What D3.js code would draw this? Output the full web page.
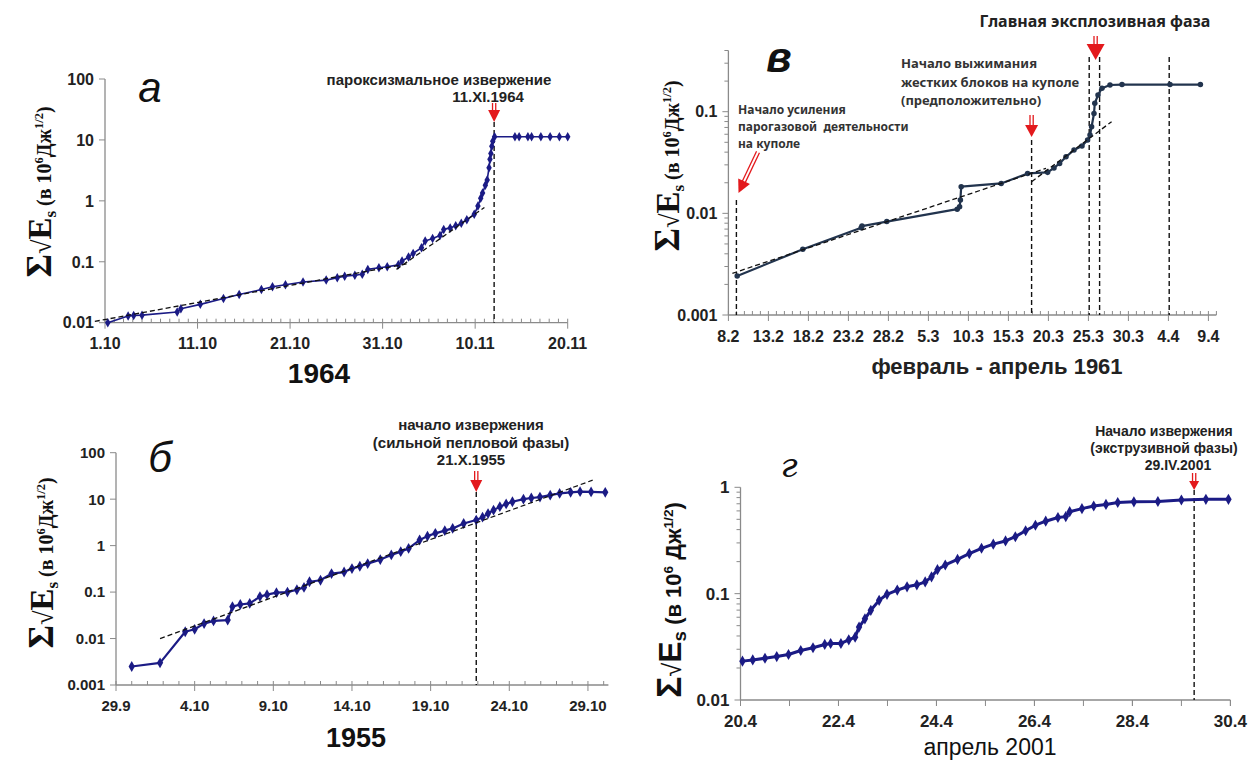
<!DOCTYPE html>
<html>
<head>
<meta charset="utf-8">
<script src="https://cdn.jsdelivr.net/npm/d3@7/dist/d3.min.js"></script>
<style>
body { margin: 0; background: #fff; }
</style>
</head>
<body>
<script>
var W = 1250, H = 762;

// ---- panel а : 1964 (days from 1.10)
var aTickDays = [0, 10, 20, 30, 40, 50];
var aTickLabels = ["1.10", "11.10", "21.10", "31.10", "10.11", "20.11"];
var aDays = [0.3, 2.5, 3.1, 4.0, 7.8, 8.2, 10.3, 12.8, 14.5, 16.9, 18.1, 19.5, 21.4, 23.9, 25.1, 25.9, 27.0, 27.8,
             28.4, 29.6, 30.5, 31.7, 32.1, 32.8, 33.3, 34.2, 34.6, 35.4, 36.2, 36.6, 37.3, 37.9, 38.5, 39.1, 39.9,
             40.3, 40.6, 40.8, 41.1, 41.3, 41.5, 41.6, 41.7, 41.8, 41.9, 42.1, 44.3, 44.75, 45.7, 46.1, 47.1, 48.1, 49.1, 50.0];
var aVals = [0.0100, 0.0129, 0.0131, 0.0133, 0.0150, 0.0170, 0.0200, 0.0250, 0.029, 0.035, 0.039, 0.042, 0.0466, 0.050,
             0.0545, 0.058, 0.060, 0.0625, 0.075, 0.080, 0.083, 0.089, 0.103, 0.12, 0.137, 0.17, 0.22, 0.24, 0.27, 0.34,
             0.36, 0.39, 0.43, 0.49, 0.60, 0.82, 1.1, 1.35, 1.8, 2.2, 3.5, 4.8, 6.0, 7.9, 9.5, 11.3, 11.3, 11.3, 11.3,
             11.3, 11.3, 11.3, 11.3, 11.3];
var aTrend1 = [[-1.1, 0.0105], [32.9, 0.094]];
var aTrend2 = [[31.5, 0.075], [41.0, 0.78]];
var aEventDay = 42.05;

// ---- panel в : February - April 1961 (days from 8.2)
var vTickDays = [0, 5, 10, 15, 20, 25, 30, 35, 40, 45, 50, 55, 60];
var vTickLabels = ["8.2", "13.2", "18.2", "23.2", "28.2", "5.3", "10.3", "15.3", "20.3", "25.3", "30.3", "4.4", "9.4"];
var vDays = [1.1, 9.3, 16.6, 16.7, 19.8, 28.6, 28.9, 29.0, 29.1, 34.1, 37.4, 39.9, 40.7, 41.4, 42.2, 43.2, 44.2,
             44.9, 45.2, 45.4, 45.7, 45.8, 46.2, 46.7, 47.7, 49.2, 55.2, 59.0];
var vVals = [0.00242, 0.00443, 0.00723, 0.0075, 0.0083, 0.0110, 0.0116, 0.0135, 0.0183, 0.0197, 0.0247, 0.0253,
             0.028, 0.031, 0.036, 0.042, 0.046, 0.0526, 0.059, 0.071, 0.096, 0.121, 0.146, 0.170, 0.183, 0.185,
             0.185, 0.185];
var vTrend1 = [[0.5, 0.00257], [39.7, 0.0277]];
var vTrend2 = [[37.9, 0.0205], [47.9, 0.0798]];
var vEventDays = [1.0, 37.9, 45.1, 46.4, 55.1];
var vEventTops = [200, 140, 57, 57, 57];

// ---- panel б : 1955 (days from 29.9)
var bTickDays = [0, 5, 10, 15, 20, 25, 30];
var bTickLabels = ["29.9", "4.10", "9.10", "14.10", "19.10", "24.10", "29.10"];
var bDays = [1.0, 2.8, 4.4, 5.0, 5.6, 6.2, 7.1, 7.4, 7.9, 8.5, 9.15, 9.6, 10.2, 10.9, 11.5, 11.95, 12.3, 13.0, 13.7,
             14.5, 15.0, 15.5, 16.0, 16.8, 17.5, 18.1, 18.6, 19.3, 19.8, 20.3, 20.9, 21.4, 22.1, 22.9, 23.3, 23.65,
             24.0, 24.4, 24.8, 25.2, 25.9, 26.4, 26.95, 27.6, 28.2, 28.9, 29.5, 30.2, 31.1];
var bVals = [0.0025, 0.0030, 0.014, 0.0158, 0.021, 0.024, 0.025, 0.0486, 0.054, 0.057, 0.080, 0.088, 0.097, 0.100,
             0.112, 0.126, 0.167, 0.18, 0.25, 0.27, 0.32, 0.36, 0.41, 0.50, 0.63, 0.74, 0.87, 1.32, 1.60, 1.84, 2.1,
             2.35, 3.0, 3.55, 4.1, 4.9, 5.8, 6.9, 7.9, 8.8, 10.0, 10.6, 11.1, 12.2, 13.3, 14.0, 14.5, 14.3, 14.0];
var bTrend = [[2.8, 0.010], [30.3, 25.7]];
var bEventDay = 22.9;

// ---- panel г : April 2001 (days from 20.4)
var gTickDays = [0, 2, 4, 6, 8, 10];
var gTickLabels = ["20.4", "22.4", "24.4", "26.4", "28.4", "30.4"];
var gDays = [0.04, 0.25, 0.5, 0.74, 0.98, 1.23, 1.48, 1.72, 1.84, 2.05, 2.21, 2.34, 2.42, 2.54, 2.66, 2.83, 2.99,
             3.2, 3.4, 3.6, 3.77, 3.9, 4.02, 4.18, 4.43, 4.67, 4.92, 5.16, 5.41, 5.61, 5.82, 6.02, 6.23, 6.48, 6.64,
             6.72, 6.97, 7.21, 7.46, 7.7, 8.03, 8.52, 9.0, 9.5, 9.96];
var gVals = [0.0232, 0.0238, 0.0247, 0.0256, 0.0268, 0.0292, 0.031, 0.0333, 0.034, 0.034, 0.0368, 0.039, 0.0485,
             0.058, 0.0697, 0.0865, 0.0986, 0.108, 0.116, 0.121, 0.129, 0.144, 0.168, 0.186, 0.21, 0.238, 0.267,
             0.292, 0.313, 0.343, 0.39, 0.44, 0.48, 0.52, 0.53, 0.59, 0.63, 0.667, 0.69, 0.72, 0.73, 0.735, 0.76,
             0.77, 0.77];
var gEventDay = 9.26;

var svg = d3.select("body").append("svg")
    .attr("width", W).attr("height", H)
    .style("font-family", "'Liberation Sans', Arial, sans-serif");

var RED = "#e3191c";
var AXIS = "#8a8a8a";

function zip(xs, ys) { return xs.map(function(d, i) { return [d, ys[i]]; }); }

// arrow drawn from (x1,y1) to tip (x2,y2) with a double shaft
function arrow(x1, y1, x2, y2, headLen, headW) {
    var ang = Math.atan2(y2 - y1, x2 - x1) * 180 / Math.PI;
    var L = Math.sqrt((x2 - x1) * (x2 - x1) + (y2 - y1) * (y2 - y1));
    var g = svg.append("g").attr("transform", "translate(" + x2 + "," + y2 + ") rotate(" + ang + ")");
    [-1.6, 1.6].forEach(function(o) {
        g.append("line").attr("x1", -L).attr("y1", o).attr("x2", -headLen + 1).attr("y2", o)
            .attr("stroke", RED).attr("stroke-width", 1.3);
    });
    g.append("path")
        .attr("d", "M0,0 L" + (-headLen) + "," + (-headW / 2) + " L" + (-headLen) + "," + (headW / 2) + " Z")
        .attr("fill", RED);
}

function ylabel(x, y, serif, big, small) {
    var t = svg.append("text")
        .attr("transform", "translate(" + x + "," + y + ") rotate(-90)")
        .attr("text-anchor", "middle")
        .attr("font-weight", "bold")
        .attr("fill", "#111")
        .style("font-family", serif ? "'Liberation Serif', 'DejaVu Serif', serif" : "'Liberation Sans', Arial, sans-serif");
    t.append("tspan").attr("font-size", big + 3).text("Σ");
    t.append("tspan").attr("font-size", big * 0.8).attr("font-weight", "normal").text("√");
    t.append("tspan").attr("font-size", big).text("E");
    t.append("tspan").attr("font-size", small * 0.85).attr("dy", 5).text("s");
    t.append("tspan").attr("font-size", small).attr("dy", -5).text(" (в 10");
    t.append("tspan").attr("font-size", small * 0.62).attr("dy", -8).text("6");
    t.append("tspan").attr("font-size", small).attr("dy", 8).text(serif ? "Дж" : " Дж");
    t.append("tspan").attr("font-size", small * 0.62).attr("dy", -8).text("1/2");
    t.append("tspan").attr("font-size", small).attr("dy", 8).text(")");
}

function panel(cfg) {
    var x = d3.scaleLinear().domain(cfg.xDomain).range(cfg.xRange);
    var y = d3.scaleLog().domain(cfg.yDomain).range(cfg.yRange);
    var g = svg.append("g");
    var x0 = cfg.xRange[0], y0 = cfg.yRange[0];

    // minor x ticks
    g.selectAll(".mx").data(d3.range(Math.ceil(cfg.xDomain[0]), cfg.xDomain[1] + 0.001, cfg.minorStep))
        .enter().append("line")
        .attr("x1", function(d) { return x(d); }).attr("x2", function(d) { return x(d); })
        .attr("y1", y0).attr("y2", y0 + cfg.minorDir * cfg.minorLen)
        .attr("stroke", AXIS).attr("stroke-width", 1);
    // major x ticks
    g.selectAll(".Mx").data(cfg.xTicks).enter().append("line")
        .attr("x1", function(d) { return x(d); }).attr("x2", function(d) { return x(d); })
        .attr("y1", y0).attr("y2", y0 + 6)
        .attr("stroke", AXIS).attr("stroke-width", 1);
    g.selectAll(".lx").data(cfg.xTicks).enter().append("text")
        .attr("x", function(d) { return x(d); }).attr("y", cfg.xLabelY)
        .attr("text-anchor", "middle").attr("font-weight", "bold")
        .attr("font-size", cfg.tickFont).attr("fill", "#222")
        .text(function(d, i) { return cfg.xLabels[i]; });

    // y ticks
    var decades = [];
    for (var e = Math.round(Math.log10(cfg.yDomain[0])); Math.pow(10, e) <= cfg.yDomain[1] * 1.0001; e++) decades.push(Math.pow(10, e));
    if (cfg.yMinor) {
        var minors = [];
        decades.forEach(function(d) { for (var k = 2; k <= 9; k++) if (d * k <= cfg.yDomain[1]) minors.push(d * k); });
        g.selectAll(".my").data(minors).enter().append("line")
            .attr("x1", x0 - 4).attr("x2", x0)
            .attr("y1", function(d) { return y(d); }).attr("y2", function(d) { return y(d); })
            .attr("stroke", AXIS).attr("stroke-width", 1);
    }
    g.selectAll(".My").data(decades).enter().append("line")
        .attr("x1", x0 - 6).attr("x2", x0)
        .attr("y1", function(d) { return y(d); }).attr("y2", function(d) { return y(d); })
        .attr("stroke", AXIS).attr("stroke-width", 1);
    g.selectAll(".ly").data(decades).enter().append("text")
        .attr("x", x0 - 11).attr("y", function(d) { return y(d) + cfg.tickFont * 0.36; })
        .attr("text-anchor", "end").attr("font-weight", "bold")
        .attr("font-size", cfg.tickFont).attr("fill", "#222")
        .text(function(d) { return d >= 1 ? String(d) : String(+d.toPrecision(1)); });

    // axis lines
    g.append("line").attr("x1", x0).attr("x2", x0).attr("y1", y0).attr("y2", cfg.yRange[1])
        .attr("stroke", AXIS).attr("stroke-width", 1.3);
    g.append("line").attr("x1", x0).attr("x2", cfg.xRange[1]).attr("y1", y0).attr("y2", y0)
        .attr("stroke", AXIS).attr("stroke-width", 1.3);

    // event dashed lines
    cfg.events.forEach(function(ev) {
        g.append("line").attr("x1", x(ev[0])).attr("x2", x(ev[0]))
            .attr("y1", ev[1]).attr("y2", y0)
            .attr("stroke", "#111").attr("stroke-width", 1.4).attr("stroke-dasharray", "5,3");
    });

    // data line
    var line = d3.line().x(function(d) { return x(d[0]); }).y(function(d) { return y(d[1]); });
    var pts = zip(cfg.days, cfg.vals);
    g.append("path").datum(pts).attr("d", line)
        .attr("fill", "none").attr("stroke", cfg.color).attr("stroke-width", cfg.lineW)
        .attr("stroke-linejoin", "round");
    g.selectAll(".pt").data(pts).enter().append("path")
        .attr("transform", function(d) { return "translate(" + x(d[0]) + "," + y(d[1]) + ")"; })
        .attr("d", d3.symbol().type(cfg.symbol).size(cfg.symSize))
        .attr("fill", cfg.color);

    // trend lines
    cfg.trends.forEach(function(tr) {
        g.append("path").datum(tr).attr("d", line)
            .attr("fill", "none").attr("stroke", "#111").attr("stroke-width", 1.3)
            .attr("stroke-dasharray", "5,3");
    });
    return x;
}

// ---------- panel а
var xa = panel({
    xDomain: [0, 50], xRange: [105, 567.7], yDomain: [0.01, 100], yRange: [322.7, 79],
    xTicks: aTickDays, xLabels: aTickLabels, xLabelY: 349, tickFont: 16,
    minorStep: 1, minorDir: -1, minorLen: 4, yMinor: false,
    days: aDays, vals: aVals, color: "#1b1b85", lineW: 1.6, symbol: d3.symbolDiamond, symSize: 26,
    trends: [aTrend1, aTrend2], events: [[aEventDay, 122]]
});
arrow(xa(aEventDay), 103, xa(aEventDay), 122, 12, 12);
svg.append("text").attr("x", 439).attr("y", 85).attr("text-anchor", "middle")
    .attr("font-weight", "bold").attr("font-size", 15).attr("fill", "#222").text("пароксизмальное извержение");
svg.append("text").attr("x", 488).attr("y", 102).attr("text-anchor", "middle")
    .attr("font-weight", "bold").attr("font-size", 15).attr("fill", "#222").text("11.XI.1964");
svg.append("text").attr("x", 150).attr("y", 102).attr("text-anchor", "middle")
    .attr("font-style", "italic").attr("font-size", 42).attr("fill", "#111").text("а");
svg.append("text").attr("x", 319).attr("y", 383).attr("text-anchor", "middle")
    .attr("font-weight", "bold").attr("font-size", 28).attr("fill", "#111").text("1964");
ylabel(51, 192, true, 33, 20);

// ---------- panel в
var xv = panel({
    xDomain: [0, 61], xRange: [728.4, 1216.4], yDomain: [0.001, 0.4], yRange: [315, 50.5],
    xTicks: vTickDays, xLabels: vTickLabels, xLabelY: 342, tickFont: 16,
    minorStep: 1, minorDir: -1, minorLen: 4, yMinor: true,
    days: vDays, vals: vVals, color: "#22344e", lineW: 2.2, symbol: d3.symbolCircle, symSize: 24,
    trends: [vTrend1, vTrend2],
    events: vEventDays.map(function(d, i) { return [d, vEventTops[i]]; })
});
arrow(xv(45.9), 36, xv(45.9), 60, 16, 18);
arrow(xv(37.9), 115, xv(37.9), 137, 12, 13);
arrow(758, 152, 738.5, 193, 13, 13);
svg.append("text").attr("x", 1095).attr("y", 27).attr("text-anchor", "middle")
    .attr("font-weight", "bold").attr("font-size", 16).attr("fill", "#222")
    .style("font-family", "'Noto Sans', sans-serif").text("Главная эксплозивная фаза");
[["Начало выжимания", 68], ["жестких блоков на куполе", 87], ["(предположительно)", 105]].forEach(function(t) {
    svg.append("text").attr("x", 901).attr("y", t[1]).attr("font-weight", "bold").attr("font-size", 13)
        .attr("fill", "#333").style("font-family", "'Noto Sans', sans-serif").text(t[0]);
});
[["Начало усиления", 114], ["парогазовой  деятельности", 131], ["на куполе", 148]].forEach(function(t) {
    svg.append("text").attr("x", 738).attr("y", t[1]).attr("font-weight", "bold").attr("font-size", 12)
        .attr("fill", "#333").style("font-family", "'Noto Sans', sans-serif").attr("xml:space", "preserve").text(t[0]);
});
svg.append("text").attr("x", 779).attr("y", 72).attr("text-anchor", "middle")
    .attr("font-style", "italic").attr("font-weight", "bold").attr("font-size", 42).attr("fill", "#111").text("в");
svg.append("text").attr("x", 997).attr("y", 374).attr("text-anchor", "middle")
    .attr("font-weight", "bold").attr("font-size", 22).attr("fill", "#222").text("февраль - апрель 1961");
ylabel(679, 166, true, 33, 20);

// ---------- panel б
var xb = panel({
    xDomain: [0, 31.3], xRange: [116, 608.4], yDomain: [0.001, 100], yRange: [685, 452.7],
    xTicks: bTickDays, xLabels: bTickLabels, xLabelY: 711, tickFont: 15,
    minorStep: 1, minorDir: -1, minorLen: 4, yMinor: false,
    days: bDays, vals: bVals, color: "#1b1b85", lineW: 2.2, symbol: d3.symbolDiamond, symSize: 34,
    trends: [bTrend], events: [[bEventDay, 492]]
});
arrow(xb(bEventDay), 471, xb(bEventDay), 492, 12, 12);
[["начало извержения", 430], ["(сильной пепловой фазы)", 448], ["21.X.1955", 465]].forEach(function(t) {
    svg.append("text").attr("x", 471).attr("y", t[1]).attr("text-anchor", "middle").attr("font-weight", "bold")
        .attr("font-size", 15).attr("fill", "#222").text(t[0]);
});
svg.append("text").attr("x", 160).attr("y", 472).attr("text-anchor", "middle")
    .attr("font-style", "italic").attr("font-size", 42).attr("fill", "#111").text("б");
svg.append("text").attr("x", 356).attr("y", 747).attr("text-anchor", "middle")
    .attr("font-weight", "bold").attr("font-size", 27).attr("fill", "#111").text("1955");
ylabel(53, 563, true, 33, 20);

// ---------- panel г
var xg = panel({
    xDomain: [0, 10], xRange: [740.5, 1230.4], yDomain: [0.01, 1], yRange: [700, 487.3],
    xTicks: gTickDays, xLabels: gTickLabels, xLabelY: 727, tickFont: 17,
    minorStep: 1, minorDir: 1, minorLen: 6, yMinor: true,
    days: gDays, vals: gVals, color: "#1b1b85", lineW: 3, symbol: d3.symbolDiamond, symSize: 36,
    trends: [], events: [[gEventDay, 490]]
});
arrow(xg(gEventDay), 473, xg(gEventDay), 490, 9, 10);
[["Начало извержения", 436, 1164], ["(экструзивной фазы)", 453, 1164], ["29.IV.2001", 470, 1178]].forEach(function(t) {
    svg.append("text").attr("x", t[2]).attr("y", t[1]).attr("text-anchor", "middle").attr("font-weight", "bold")
        .attr("font-size", 14).attr("fill", "#222").text(t[0]);
});
svg.append("text").attr("x", 789).attr("y", 477).attr("text-anchor", "middle")
    .attr("font-style", "italic").attr("font-size", 34).attr("fill", "#111")
    .style("font-family", "'DejaVu Serif', serif").text("г");
svg.append("text").attr("x", 990).attr("y", 755).attr("text-anchor", "middle")
    .attr("font-size", 23).attr("fill", "#111").text("апрель 2001");
ylabel(681, 600, false, 32, 22);
</script>
</body>
</html>
